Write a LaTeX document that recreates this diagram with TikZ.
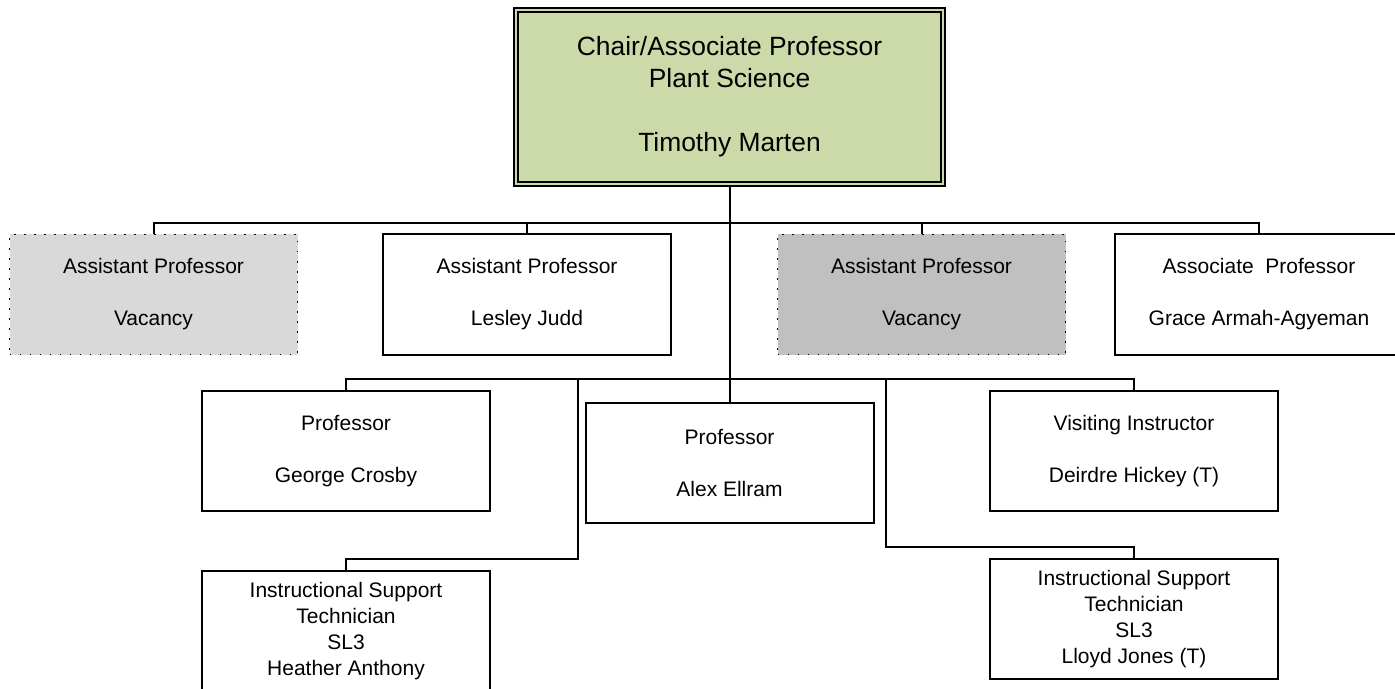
\documentclass[tikz,border=0pt]{standalone}
\usepackage{fontspec}
\setmainfont{Liberation Sans}
\usepackage{xcolor}
\usepackage{tikz}

\definecolor{chairgreen}{RGB}{204,218,170}
\definecolor{vacantlight}{RGB}{217,217,217}
\definecolor{vacantdark}{RGB}{192,192,192}

\tikzset{
  post/.style={draw, line width=1pt, align=center, inner sep=0pt,
    minimum width=144pt, minimum height=60pt,
    font=\fontsize{10.5}{13}\selectfont},
  vacant/.style={post, line width=0.9pt, dash pattern=on 0.9pt off 4.1pt},
  chairbox/.style={draw, line width=0.8pt, double=chairgreen, double distance=1.3pt,
    fill=chairgreen, align=center, inner sep=0pt,
    minimum width=213.6pt, minimum height=87.1pt,
    font=\fontsize{13.2}{16}\selectfont},
  link/.style={line width=1pt}
}

\begin{document}
\begin{tikzpicture}[x=0.5pt, y=-0.5pt]
\useasboundingbox[fill=white] (0,0) rectangle (1395,689);

% head of the department
\node[chairbox] (chair) at (729.5,97) {Chair/Associate Professor\\Plant Science\\[16pt]Timothy Marten};

% first row
\node[vacant, fill=vacantlight] (vacA) at (153.5,294.5) {Assistant Professor\\[13pt]Vacancy};
\node[post] (judd) at (527,294.5) {Assistant Professor\\[13pt]Lesley Judd};
\node[vacant, fill=vacantdark] (vacB) at (921.5,294.5) {Assistant Professor\\[13pt]Vacancy};
\node[post] (armah) at (1259,294.5) {Associate\ \ Professor\\[13pt]Grace Armah-Agyeman};

% second row
\node[post] (crosby) at (346,451) {Professor\\[13pt]George Crosby};
\node[post] (ellram) at (729.5,463) {Professor\\[13pt]Alex Ellram};
\node[post] (hickey) at (1134,451) {Visiting Instructor\\[13pt]Deirdre Hickey (T)};

% technicians
\node[post] (anthony) at (346,631) {Instructional Support\\Technician\\SL3\\Heather Anthony};
\node[post] (jones) at (1134,619) {Instructional Support\\Technician\\SL3\\Lloyd Jones (T)};

% bus lines
\coordinate (busA) at (729.5,223);
\coordinate (busB) at (729.5,379);
\coordinate (techL) at (578,379);
\coordinate (techLb) at (578,559);
\coordinate (techR) at (886,379);
\coordinate (techRb) at (886,547);

\draw[link] (chair.south) -- (ellram.north);
\draw[link] (vacA.north) |- (busA) -| (armah.north);
\draw[link] (judd.north) -- (judd.north |- busA);
\draw[link] (vacB.north) -- (vacB.north |- busA);
\draw[link] (crosby.north) |- (busB) -| (hickey.north);
\draw[link] (techL) -- (techLb) -| (anthony.north);
\draw[link] (techR) -- (techRb) -| (jones.north);
\end{tikzpicture}
\end{document}
